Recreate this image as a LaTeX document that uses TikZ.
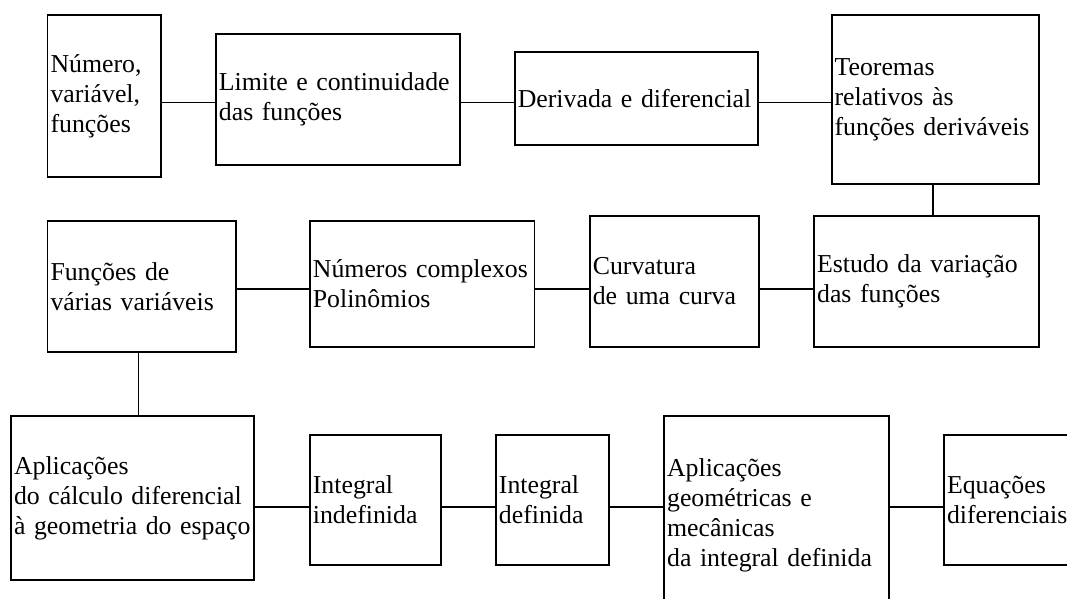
\documentclass[tikz,border=0pt]{standalone}
\usepackage{fontspec}
\setmainfont{Liberation Serif}
\newcommand{\letrabloco}{\fontsize{25.8}{30}\selectfont}
\tikzset{
  bloco/.style={draw, line width=1.8pt, inner xsep=3pt, inner ysep=0pt, align=left, font=\letrabloco},
  liga/.style={line width=1.8pt}
}
\begin{document}
\begin{tikzpicture}[x=1pt,y=-1pt]
\useasboundingbox (0,0) rectangle (1067,598);
\clip (0,0) rectangle (1067,598);

\coordinate (linha1) at (0,102.5);
\coordinate (linha2) at (0,289);
\coordinate (linha3) at (0,507);

\node[bloco, text width=107.3pt, minimum height=162pt] (numero) at (104.2,96) {Número,\\variável,\\funções};
\node[bloco, text width=237.8pt, minimum height=131.3pt] (limite) at (337.8,99.35) {Limite e continuidade\\das funções};
\node[bloco, text width=237.5pt, minimum height=93.3pt] (derivada) at (636.55,98.35) {Derivada e diferencial};
\node[bloco, text width=201.2pt, minimum height=169.3pt] (teoremas) at (935.2,99.65) {Teoremas\\relativos às\\funções deriváveis};

\node[bloco, text width=182.4pt, minimum height=131.3pt] (varias) at (141.7,286.65) {Funções de\\várias variáveis};
\node[bloco, text width=218.5pt, minimum height=125.7pt] (complexos) at (422.15,283.85) {Números complexos\\Polinômios};
\node[bloco, text width=163.2pt, minimum height=130.7pt] (curvatura) at (674.4,281.35) {Curvatura\\de uma curva};
\node[bloco, text width=218.7pt, minimum height=130.7pt] (estudo) at (926.45,281.35) {Estudo da variação\\das funções};

\node[bloco, text width=237.1pt, minimum height=164pt] (espaco) at (132.55,498) {Aplicações\\do cálculo diferencial\\à geometria do espaço};
\node[bloco, text width=124.9pt, minimum height=130pt] (indefinida) at (375.35,500) {Integral\\indefinida};
\node[bloco, text width=107.1pt, minimum height=130pt] (definida) at (552.45,500) {Integral\\definida};
\node[bloco, text width=219.1pt, minimum height=198pt] (aplicacoes) at (776.65,515) {Aplicações\\geométricas e\\mecânicas\\da integral definida};
\node[bloco, text width=144pt, minimum height=130pt] (equacoes) at (1019,500) {Equações\\diferenciais};

\draw[liga] (numero.east |- linha1) -- (limite.west |- linha1);
\draw[liga] (limite.east |- linha1) -- (derivada.west |- linha1);
\draw[liga] (derivada.east |- linha1) -- (teoremas.west |- linha1);
\draw[liga] (teoremas.south -| 932.8,0) -- (estudo.north -| 932.8,0);

\draw[liga] (varias.east |- linha2) -- (complexos.west |- linha2);
\draw[liga] (complexos.east |- linha2) -- (curvatura.west |- linha2);
\draw[liga] (curvatura.east |- linha2) -- (estudo.west |- linha2);
\draw[liga] (varias.south -| 138.4,0) -- (espaco.north -| 138.4,0);

\draw[liga] (espaco.east |- linha3) -- (indefinida.west |- linha3);
\draw[liga] (indefinida.east |- linha3) -- (definida.west |- linha3);
\draw[liga] (definida.east |- linha3) -- (aplicacoes.west |- linha3);
\draw[liga] (aplicacoes.east |- linha3) -- (equacoes.west |- linha3);

\end{tikzpicture}
\end{document}
